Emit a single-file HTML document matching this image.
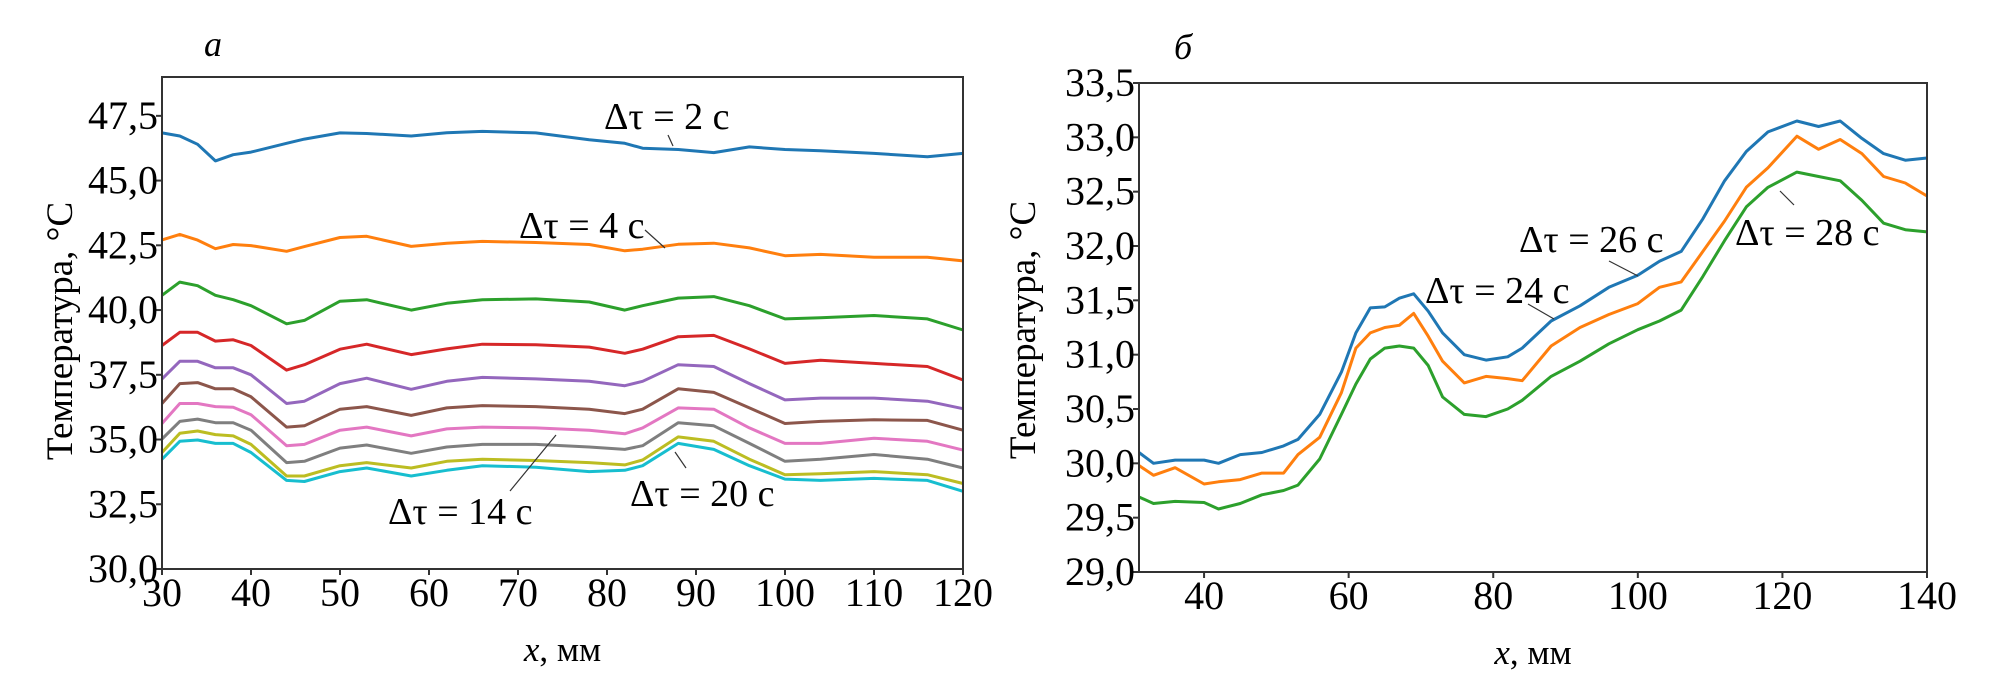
<!DOCTYPE html>
<html><head><meta charset="utf-8">
<style>
html,body{margin:0;padding:0;background:#fff;}
svg{display:block;font-family:"Liberation Serif",serif;}
</style></head>
<body>
<svg id="chart" width="1997" height="698" viewBox="0 0 1997 698" xmlns="http://www.w3.org/2000/svg">
<text x="204" y="56" font-size="36" font-style="italic">а</text>
<text x="1174" y="59" font-size="36" font-style="italic">б</text>
<g id="pa"></g>
<g id="pb"></g>
</svg>
<script>
const NS="http://www.w3.org/2000/svg";
const colors=["#1f77b4","#ff7f0e","#2ca02c","#d62728","#9467bd","#8c564b","#e377c2","#7f7f7f","#bcbd22","#17becf"];
// Panel a data
const aX=[30,32,34,36,38,40,44,46,50,53,58,62,66,72,78,82,84,88,92,96,100,104,110,116,120];
const aNames=["dt-2","dt-4","dt-6","dt-8","dt-10","dt-12","dt-14","dt-16","dt-18","dt-20"];
const a2 =[46.84,46.72,46.4,45.76,46.0,46.1,46.44,46.6,46.84,46.82,46.72,46.85,46.9,46.84,46.58,46.44,46.25,46.2,46.08,46.3,46.2,46.15,46.05,45.92,46.05];
const a4 =[42.71,42.92,42.7,42.37,42.53,42.49,42.27,42.45,42.8,42.85,42.46,42.58,42.65,42.61,42.53,42.29,42.35,42.54,42.58,42.4,42.1,42.15,42.04,42.04,41.9];
const a6 =[40.57,41.08,40.94,40.57,40.4,40.17,39.47,39.6,40.34,40.4,40.0,40.26,40.4,40.43,40.31,40.0,40.17,40.46,40.52,40.17,39.66,39.7,39.79,39.66,39.23];
const a8 =[38.63,39.14,39.14,38.8,38.85,38.63,37.68,37.89,38.49,38.68,38.28,38.5,38.68,38.66,38.57,38.33,38.49,38.97,39.02,38.5,37.94,38.06,37.94,37.82,37.3];
const a10=[37.34,38.02,38.02,37.77,37.77,37.5,36.39,36.48,37.16,37.37,36.94,37.25,37.4,37.34,37.25,37.08,37.25,37.89,37.82,37.16,36.53,36.6,36.6,36.48,36.19];
const a12=[36.39,37.16,37.2,36.96,36.96,36.65,35.48,35.53,36.17,36.27,35.93,36.22,36.31,36.27,36.17,36.0,36.17,36.96,36.82,36.22,35.62,35.7,35.76,35.74,35.36];
const a14=[35.62,36.39,36.39,36.27,36.25,35.96,34.76,34.81,35.36,35.48,35.14,35.41,35.48,35.45,35.36,35.22,35.45,36.22,36.17,35.45,34.85,34.85,35.05,34.93,34.59];
const a16=[35.02,35.7,35.79,35.65,35.65,35.36,34.11,34.16,34.67,34.79,34.47,34.71,34.81,34.81,34.71,34.62,34.76,35.65,35.53,34.85,34.16,34.24,34.42,34.24,33.9];
const a18=[34.5,35.24,35.33,35.19,35.14,34.81,33.59,33.59,33.99,34.11,33.9,34.16,34.24,34.19,34.11,34.02,34.21,35.1,34.93,34.24,33.64,33.68,33.76,33.64,33.3];
const a20=[34.24,34.93,34.98,34.85,34.85,34.5,33.42,33.38,33.76,33.9,33.59,33.81,33.99,33.93,33.76,33.81,33.99,34.85,34.62,33.99,33.47,33.42,33.5,33.42,33.0];
const aSeries=[a2,a4,a6,a8,a10,a12,a14,a16,a18,a20];
const aXTicks=[30,40,50,60,70,80,90,100,110,120];
const aYTicks=[30,32.5,35,37.5,40,42.5,45,47.5];
// Panel b data
const bX=[31,33,36,40,42,45,48,51,53,56,59,61,63,65,67,69,71,73,76,79,82,84,88,92,96,100,103,106,109,112,115,118,122,125,128,131,134,137,140];
const b26=[30.1,30.0,30.03,30.03,30.0,30.08,30.1,30.16,30.22,30.45,30.84,31.2,31.43,31.44,31.52,31.56,31.4,31.2,31.0,30.95,30.98,31.06,31.31,31.45,31.62,31.73,31.86,31.95,32.25,32.6,32.87,33.05,33.15,33.1,33.15,32.99,32.85,32.79,32.81];
const b24=[29.98,29.89,29.96,29.81,29.83,29.85,29.91,29.91,30.08,30.24,30.65,31.06,31.2,31.25,31.27,31.38,31.17,30.94,30.74,30.8,30.78,30.76,31.08,31.25,31.37,31.47,31.62,31.67,31.95,32.23,32.54,32.72,33.01,32.89,32.98,32.85,32.64,32.58,32.46];
const b28=[29.69,29.63,29.65,29.64,29.58,29.63,29.71,29.75,29.8,30.04,30.45,30.73,30.96,31.06,31.08,31.06,30.9,30.61,30.45,30.43,30.5,30.58,30.8,30.94,31.1,31.23,31.31,31.41,31.72,32.05,32.36,32.54,32.68,32.64,32.6,32.42,32.21,32.15,32.13];
const bSeries=[b26,b24,b28];
const bNames=["dt-26","dt-24","dt-28"];
const bXTicks=[40,60,80,100,120,140];
const bYTicks=[29,29.5,30,30.5,31,31.5,32,32.5,33,33.5];

function el(tag,attrs,parent,txt){const e=document.createElementNS(NS,tag);for(const k in attrs)e.setAttribute(k,attrs[k]);if(txt!==undefined)e.textContent=txt;parent.appendChild(e);return e;}
const fmt=v=>v.toFixed(1).replace('.',',');

function panel(g,cfg){
  const sx=v=>cfg.l+(v-cfg.x0)/(cfg.x1-cfg.x0)*(cfg.r-cfg.l);
  const sy=v=>cfg.b-(v-cfg.y0)/(cfg.y1-cfg.y0)*(cfg.b-cfg.t);
  cfg.series.forEach((s,i)=>{
    const pts=cfg.xs.map((x,j)=>sx(x).toFixed(1)+","+sy(s[j]).toFixed(1)).join(" ");
    const p=el("polyline",{points:pts,fill:"none",stroke:cfg.colors[i],"stroke-width":3,"stroke-linejoin":"round"},g);
    
    
  });
  const f=el("rect",{x:cfg.l,y:cfg.t,width:cfg.r-cfg.l,height:cfg.b-cfg.t,fill:"none",stroke:"#333","stroke-width":2},g);
  
  
  cfg.xt.forEach(v=>{
    const x=sx(v);
    const tk=el("line",{x1:x,x2:x,y1:cfg.b,y2:cfg.b+6,stroke:"#333","stroke-width":2},g);
    
    
    const t=el("text",{x:x,y:cfg.b+37,"font-size":40,"text-anchor":"middle"},g,String(v));
    
    
  });
  cfg.yt.forEach(v=>{
    const y=sy(v);
    const tk=el("line",{x1:cfg.l-6,x2:cfg.l,y1:y,y2:y,stroke:"#333","stroke-width":2},g);
    
    
    const t=el("text",{x:cfg.l-4,y:y+13,"font-size":40,"text-anchor":"end"},g,fmt(v));
    
    
  });
  const xl=el("text",{x:(cfg.l+cfg.r)/2,y:cfg.b+92,"font-size":35,"text-anchor":"middle"},g);
  
  
  el("tspan",{"font-style":"italic"},xl,"x");
  el("tspan",{},xl,", мм");
  const cy=cfg.ycy;
  const yl=el("text",{x:cfg.yl,y:cy,"font-size":37,"text-anchor":"middle",transform:`rotate(-90 ${cfg.yl} ${cy})`},g,"Температура, °С");
  
  
  cfg.ann.forEach(a=>{
    const t=el("text",{x:a[0],y:a[1],"font-size":38},g,a[2]);
    
    
    const ln=el("line",{x1:a[3],y1:a[4],x2:a[5],y2:a[6],stroke:"#333","stroke-width":1.2},g);
    
    
  });
}
panel(document.getElementById('pa'),{l:162,r:963,t:77,b:569,x0:30,x1:120,y0:30,y1:49,xs:aX,series:aSeries,names:aNames,colors:colors,xt:aXTicks,yt:aYTicks,yl:72,ycy:331,
 ann:[[604,129,"Δτ = 2 c",668,135,673,146],[519,238,"Δτ = 4 c",645,230,665,248],[388,524,"Δτ = 14 c",510,491,556,435],[630,506,"Δτ = 20 c",686,468,675,452]]});
panel(document.getElementById('pb'),{l:1139,r:1927,t:83,b:572,x0:31,x1:140,y0:29,y1:33.5,xs:bX,series:bSeries,names:bNames,colors:colors,xt:bXTicks,yt:bYTicks,yl:1035,ycy:330,
 ann:[[1519,252,"Δτ = 26 c",1609,261,1638,276],[1425,303,"Δτ = 24 c",1528,304,1554,319],[1735,245,"Δτ = 28 c",1780,191,1794,205]]});
</script>
</body></html>
